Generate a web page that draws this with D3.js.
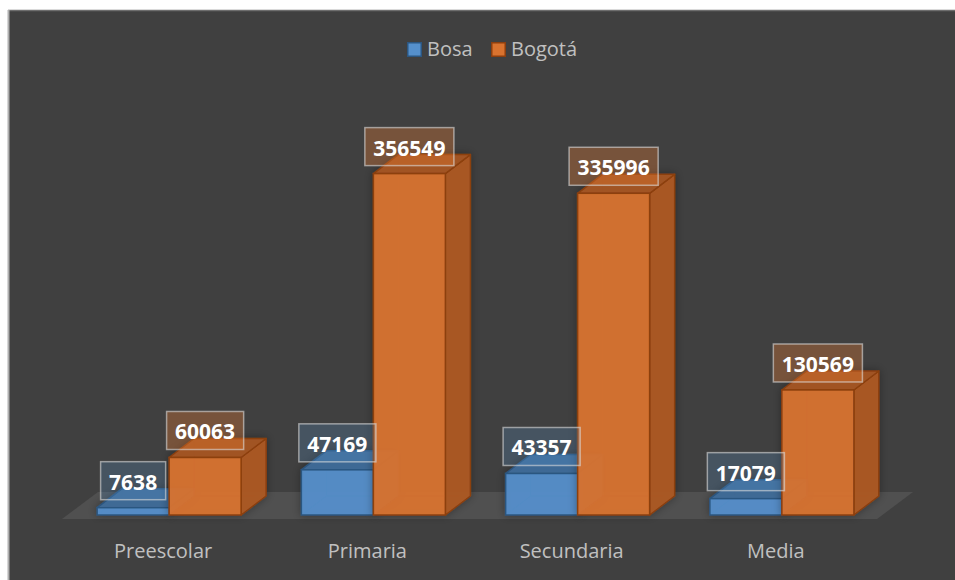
<!DOCTYPE html>
<html>
<head>
<meta charset="utf-8">
<script src="https://cdn.jsdelivr.net/npm/d3@7"></script>
<style>
  body { margin: 0; background: #ffffff; }
  svg { display: block; font-family: "Open Sans", sans-serif; }
</style>
</head>
<body>
<div id="graph"></div>
<script>
// chart values
const categories = ["Preescolar", "Primaria", "Secundaria", "Media"];
const seriesNames = ["Bosa", "Bogotá"];
const bosa = [7638, 47169, 43357, 17079];
const bogota = [60063, 356549, 335996, 130569];

const width = 955, height = 580;
const depth = {dx: 25, dy: -19};        // bar depth in the fake 3d
const floorDepth = {dx: 36, dy: -27};
const barW = 72;

const colors = {
  "Bosa":   {front: "#5590cc", side: "#44709f", top: "#3f6b99", edge: "#2c5680", box: "rgba(91,155,213,0.22)"},
  "Bogotá": {front: "#d9732f", side: "#ad5a25", top: "#a55524", edge: "#8c3f0f", box: "rgba(237,125,49,0.32)"}
};

const graph = d3.select("div#graph")
  .append("svg")
  .attr("width", width)
  .attr("height", height);

const defs = graph.append("defs");
defs.append("filter").attr("id", "shadow")
  .attr("x", "-30%").attr("y", "-30%").attr("width", "160%").attr("height", "160%")
  .append("feDropShadow")
  .attr("dx", 0).attr("dy", 0)
  .attr("stdDeviation", 4)
  .attr("flood-color", "#000")
  .attr("flood-opacity", 0.35);

// chart area + border
graph.append("rect")
  .attr("x", 8).attr("y", 10)
  .attr("width", width - 8).attr("height", height - 10)
  .attr("fill", "#404040");
graph.append("line").attr("x1", 8).attr("x2", width).attr("y1", 10.5).attr("y2", 10.5)
  .attr("stroke", "#6e6e6e").attr("stroke-width", 1.5);
graph.append("line").attr("x1", 8.5).attr("x2", 8.5).attr("y1", 10).attr("y2", height)
  .attr("stroke", "#b0b0b0").attr("stroke-width", 2);

const x0 = d3.scaleBand()
  .domain(categories)
  .range([67, 884]);

const x1 = d3.scaleBand()
  .domain(seriesNames)
  .range([0, barW * 2]);

const yScale = d3.scaleLinear()
  .domain([0, 400000])
  .range([515, 132]);

const groupLeft = c => x0(c) + x0.bandwidth() / 2 - barW;

// floor
const fl = x0.range()[0] - 5, fr = x0.range()[1] - 7, fy = 519;
graph.append("path")
  .attr("d", `M${fl},${fy}L${fl + floorDepth.dx},${fy + floorDepth.dy}L${fr + floorDepth.dx},${fy + floorDepth.dy}L${fr},${fy}Z`)
  .attr("fill", "#505050");

// legend
const legend = graph.append("g").attr("class", "legend");
const legendX = [407, 491];
seriesNames.forEach((s, i) => {
  legend.append("rect")
    .attr("x", legendX[i] + 0.75).attr("y", 42.75)
    .attr("width", 13.5).attr("height", 13.5)
    .attr("fill", colors[s].front)
    .attr("stroke", colors[s].edge).attr("stroke-width", 1.5);
  legend.append("text")
    .attr("x", legendX[i] + 20).attr("y", 56)
    .attr("font-size", 20)
    .attr("fill", "#c0c0c0")
    .text(s);
});

// bars
const rows = [];
categories.forEach((c, i) => {
  rows.push({cat: c, series: "Bosa", value: bosa[i]});
  rows.push({cat: c, series: "Bogotá", value: bogota[i]});
});

function drawBox(g, d) {
  const x = groupLeft(d.cat) + x1(d.series);
  const yb = yScale(0), yt = yScale(d.value);
  const col = colors[d.series];
  const {dx, dy} = depth;
  const box = g.append("g").attr("filter", "url(#shadow)");
  // hidden back edges, seen through the faces
  box.append("path")
    .attr("d", `M${x + dx},${yt + dy}L${x + dx},${yb + dy}L${x + barW + dx},${yb + dy}M${x + dx},${yb + dy}L${x},${yb}`)
    .attr("fill", "none").attr("stroke", col.edge).attr("stroke-opacity", 0.35).attr("stroke-width", 1);
  // side
  box.append("path")
    .attr("d", `M${x + barW},${yb}L${x + barW + dx},${yb + dy}L${x + barW + dx},${yt + dy}L${x + barW},${yt}Z`)
    .attr("fill", col.side).attr("fill-opacity", 0.95)
    .attr("stroke", col.edge).attr("stroke-width", 1.5).attr("stroke-linejoin", "round");
  // top
  box.append("path")
    .attr("d", `M${x},${yt}L${x + dx},${yt + dy}L${x + barW + dx},${yt + dy}L${x + barW},${yt}Z`)
    .attr("fill", col.top).attr("fill-opacity", 0.95)
    .attr("stroke", col.edge).attr("stroke-width", 1.5).attr("stroke-linejoin", "round");
  // front
  box.append("rect")
    .attr("x", x).attr("y", yt)
    .attr("width", barW).attr("height", yb - yt)
    .attr("fill", col.front).attr("fill-opacity", 0.93)
    .attr("stroke", col.edge).attr("stroke-width", 1.5);
}

const bars = graph.append("g").attr("class", "bars");
rows.forEach(d => drawBox(bars, d));

// category labels
graph.append("g").selectAll("text")
  .data(categories)
  .join("text")
  .attr("x", c => x0(c) + x0.bandwidth() / 2 - 6)
  .attr("y", 558)
  .attr("text-anchor", "middle")
  .attr("font-size", 20)
  .attr("fill", "#c0c0c0")
  .text(c => c);

// data labels
const labels = graph.append("g").attr("class", "labels");
rows.forEach(d => {
  const cx = groupLeft(d.cat) + x1(d.series) + barW / 2;
  const bottom = yScale(d.value) - 8;
  const g = labels.append("g");
  const rect = g.append("rect");
  const t = g.append("text")
    .attr("x", cx).attr("y", bottom - 10)
    .attr("text-anchor", "middle")
    .attr("font-size", 21).attr("font-weight", "bold")
    .attr("fill", "#ffffff")
    .text(d.value);
  const w = t.node().getComputedTextLength() + 17;
  rect.attr("x", cx - w / 2).attr("y", bottom - 38)
    .attr("width", w).attr("height", 38)
    .attr("fill", colors[d.series].box)
    .attr("stroke", "rgba(220,220,220,0.6)")
    .attr("stroke-width", 1.5);
});
</script>
</body>
</html>
